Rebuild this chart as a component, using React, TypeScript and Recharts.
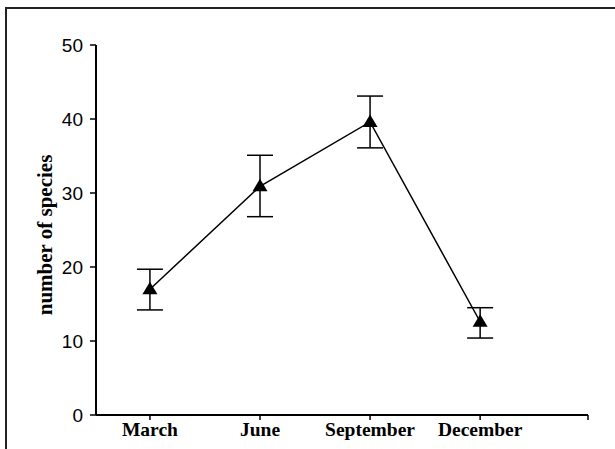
import React from 'react';
import { LineChart, Line, XAxis, YAxis, ErrorBar } from 'recharts';

const months = ['March', 'June', 'September', 'December'];
const meanSpecies = [17.0, 30.9, 39.6, 12.6];
const upperBound = [19.7, 35.1, 43.1, 14.5];
const lowerBound = [14.2, 26.8, 36.1, 10.4];
const yTicks = [0, 10, 20, 30, 40, 50];
const xTicks = [0, 1, 2, 3, 3.98];

const data = months.map((m, i) => ({
  x: i,
  month: m,
  value: meanSpecies[i],
  err: [meanSpecies[i] - lowerBound[i], upperBound[i] - meanSpecies[i]],
}));

const Triangle = (props: any) => {
  const { cx, cy } = props;
  if (cx == null || cy == null) return null;
  return (
    <path
      d={`M${cx},${cy - 7.5} L${cx + 7.5},${cy + 5} L${cx - 7.5},${cy + 5} Z`}
      fill="#000"
      stroke="none"
    />
  );
};

const YLabel = (props: any) => {
  const vb = props.viewBox || { x: 0, y: 0, width: 96, height: 370 };
  const x = vb.x + 45;
  const y = vb.y + vb.height / 2 + 5;
  return (
    <text
      x={x}
      y={y}
      transform={`rotate(-90, ${x}, ${y})`}
      textAnchor="middle"
      dominantBaseline="central"
      fontFamily="'Liberation Serif', 'Times New Roman', serif"
      fontWeight="bold"
      fontSize={21}
      fill="#000"
    >
      number of species
    </text>
  );
};

export default function App() {
  return (
    <div
      style={{
        position: 'absolute',
        left: 0,
        top: 0,
        width: 615,
        height: 449,
        background: '#fff',
      }}
    >
      <div
        style={{
          position: 'absolute',
          left: 5,
          top: 7,
          width: 610,
          height: 442,
          borderTop: '2px solid #222',
          borderLeft: '2px solid #222',
          boxSizing: 'border-box',
        }}
      />
      <div style={{ position: 'absolute', left: 0, top: 0 }}>
        <LineChart
          width={615}
          height={449}
          data={data}
          margin={{ top: 45, right: 27, bottom: 0, left: 0 }}
        >
          <XAxis
            dataKey="x"
            type="number"
            domain={[-0.49, 3.98]}
            allowDataOverflow
            ticks={xTicks}
            interval={0}
            height={34}
            tickFormatter={(v: number) => (Number.isInteger(v) ? months[v] : '')}
            axisLine={{ stroke: '#000', strokeWidth: 2 }}
            tickLine={{ stroke: '#000', strokeWidth: 1.5 }}
            tickSize={5}
            tick={{
              fill: '#000',
              fontSize: 19.5,
              fontWeight: 'bold',
              fontFamily: "'Liberation Serif', 'Times New Roman', serif",
            }}
          />
          <YAxis
            type="number"
            domain={[0, 50]}
            ticks={yTicks}
            interval={0}
            width={96}
            axisLine={{ stroke: '#000', strokeWidth: 2 }}
            tickLine={{ stroke: '#000', strokeWidth: 1.5 }}
            tickSize={6}
            tickMargin={7}
            tick={{
              fill: '#000',
              fontSize: 19,
              fontFamily: "'Liberation Sans', Arial, sans-serif",
            }}
            label={<YLabel />}
          />
          <Line
            dataKey="value"
            stroke="#000"
            strokeWidth={1.5}
            dot={<Triangle />}
            activeDot={false}
            isAnimationActive={false}
          >
            <ErrorBar
              dataKey="err"
              direction="y"
              width={13}
              stroke="#000"
              strokeWidth={1.5}
              isAnimationActive={false}
            />
          </Line>
        </LineChart>
      </div>
    </div>
  );
}
